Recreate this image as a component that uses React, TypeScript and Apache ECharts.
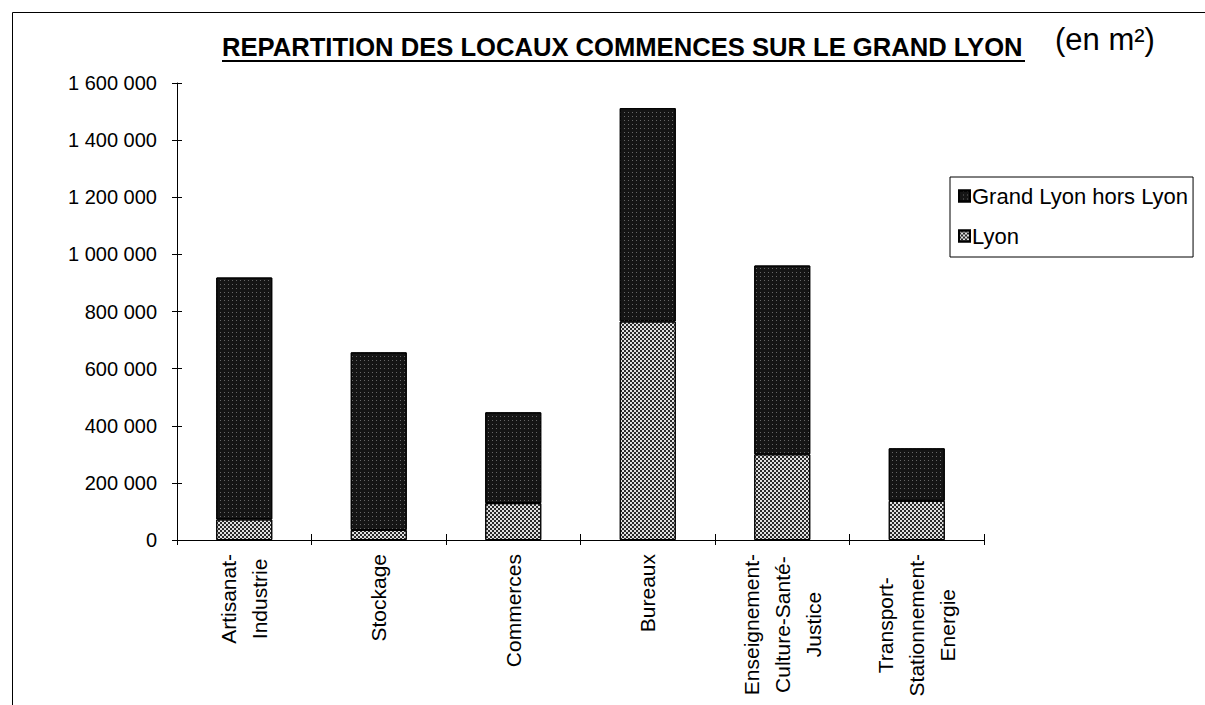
import React, { useEffect, useRef } from "react";
import * as echarts from "echarts";

const categories = [
  "Artisanat-\nIndustrie",
  "Stockage",
  "Commerces",
  "Bureaux",
  "Enseignement-\nCulture-Santé-\nJustice",
  "Transport-\nStationnement-\nEnergie",
];
const lyon = [72000, 35000, 129000, 765000, 300000, 137000];
const horsLyon = [847000, 622000, 318000, 747000, 661000, 184000];
const yTicks = { min: 0, max: 1600000, interval: 200000 };
const seriesNames = ["Grand Lyon hors Lyon", "Lyon"];
const titleText = "REPARTITION DES LOCAUX COMMENCES SUR LE GRAND LYON";
const unitText = "(en m²)";

const FONT = 'Arial, "Liberation Sans", sans-serif';

function fmt(v: number) {
  return String(v).replace(/\B(?=(\d{3})+(?!\d))/g, " ");
}

export default function App() {
  const ref = useRef<HTMLDivElement>(null);
  useEffect(() => {
    if (!ref.current) return;
    const chart = echarts.init(ref.current, null, { renderer: "svg" });
    const darkDecal = {
      symbol: "rect",
      symbolSize: 1,
      color: "rgba(255,255,255,0.35)",
      dashArrayX: [1, 3],
      dashArrayY: [1, 3],
    };
    const checkDecal = {
      symbol: "rect",
      symbolSize: 1,
      color: "#2a2a2a",
      dashArrayX: [
        [2, 2],
        [0, 2, 2, 0],
      ],
      dashArrayY: [2, 0],
    };
    chart.setOption({
      animation: false,
      backgroundColor: "#fff",
      textStyle: { fontFamily: FONT, color: "#000" },
      title: [
        {
          text: titleText,
          left: 222,
          top: 34,
          padding: 0,
          textStyle: { fontFamily: FONT, fontSize: 25.6, fontWeight: "bold", color: "#000" },
        },
        {
          text: unitText,
          left: 1055,
          top: 24,
          padding: 0,
          textStyle: { fontFamily: FONT, fontSize: 31, fontWeight: "normal", color: "#000" },
        },
      ],
      graphic: [
        { type: "line", shape: { x1: 222, y1: 61, x2: 1025, y2: 61 }, style: { stroke: "#000", lineWidth: 2 } },
        { type: "line", shape: { x1: 12.5, y1: 12.5, x2: 1205, y2: 12.5 }, style: { stroke: "#000", lineWidth: 1 } },
        { type: "line", shape: { x1: 12.5, y1: 12.5, x2: 12.5, y2: 705 }, style: { stroke: "#000", lineWidth: 1 } },
      ],
      legend: {
        data: seriesNames,
        orient: "vertical",
        left: 950,
        top: 177,
        padding: [8, 5, 10, 8],
        itemGap: 18,
        itemWidth: 11,
        itemHeight: 11,
        borderColor: "#000",
        borderWidth: 1,
        icon: "rect",
        textStyle: { fontFamily: FONT, fontSize: 22, color: "#000", padding: [0, 0, 0, -3] },
      },
      grid: { left: 177, right: 221, top: 83, bottom: 165, containLabel: false },
      xAxis: [
        {
          type: "category",
          data: categories,
          position: "bottom",
          axisLine: { lineStyle: { color: "#000", width: 1 } },
          axisTick: { show: true, length: 5, lineStyle: { color: "#000" } },
          axisLabel: {
            rotate: 90,
            margin: 14,
            align: "right",
            verticalAlign: "middle",
            interval: 0,
            formatter: (v: string) => v.split("\n").map((l) => `{c|${l}}`).join("\n"),
            rich: {
              c: { align: "center", fontSize: 21, lineHeight: 31, fontFamily: FONT, color: "#000" },
            },
          },
        },
        {
          type: "category",
          data: categories,
          position: "bottom",
          axisLine: { show: false },
          axisTick: { show: true, inside: true, length: 6, lineStyle: { color: "#000" } },
          axisLabel: { show: false },
        },
      ],
      yAxis: [
        {
          type: "value",
          ...yTicks,
          position: "left",
          axisLine: { show: true, lineStyle: { color: "#000", width: 1 } },
          axisTick: { show: true, length: 5, lineStyle: { color: "#000" } },
          splitLine: { show: false },
          axisLabel: {
            margin: 20,
            fontSize: 20,
            fontFamily: FONT,
            color: "#000",
            formatter: (v: number) => fmt(v),
          },
        },
        {
          type: "value",
          ...yTicks,
          position: "left",
          axisLine: { show: false },
          axisTick: { show: true, inside: true, length: 5, lineStyle: { color: "#000" } },
          splitLine: { show: false },
          axisLabel: { show: false },
        },
      ],
      series: [
        {
          name: seriesNames[1],
          type: "bar",
          stack: "total",
          data: lyon,
          barWidth: 56,
          itemStyle: { color: "#e0e0e0", decal: checkDecal, borderColor: "#000", borderWidth: 1 },
        },
        {
          name: seriesNames[0],
          type: "bar",
          stack: "total",
          data: horsLyon,
          barWidth: 56,
          itemStyle: { color: "#151515", decal: darkDecal, borderColor: "#000", borderWidth: 1 },
        },
      ],
    });
    return () => chart.dispose();
  }, []);
  return (
    <div
      ref={ref}
      style={{ position: "fixed", left: 0, top: 0, width: 1205, height: 705, background: "#fff" }}
    />
  );
}
